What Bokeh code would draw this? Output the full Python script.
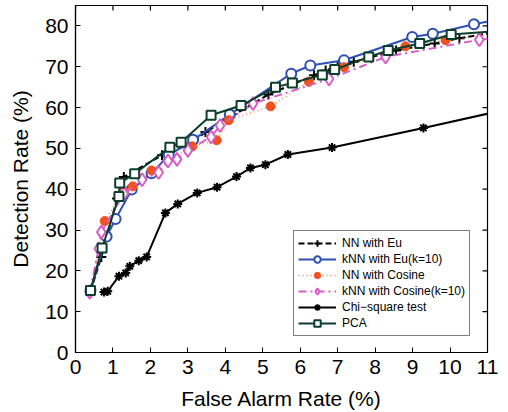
import math
from bokeh.plotting import figure
from bokeh.models import Range1d, FixedTicker
from bokeh.embed import file_html
from bokeh.resources import INLINE

X_MIN, X_MAX = 0, 11
Y_MIN, Y_MAX = 0, 85
x_ticks = list(range(0, 12))
y_ticks = list(range(0, 90, 10))

nn_eu_x = [0.40, 0.69, 1.11, 1.29, 2.31, 3.12, 3.47, 5.15, 6.37, 6.68, 7.00, 7.43, 8.56, 9.59, 10.25, 11.3]
nn_eu_y = [15.0, 23.4, 37.7, 43.0, 48.3, 51.3, 54.0, 63.2, 67.9, 69.1, 70.1, 71.2, 74.0, 75.7, 77.0, 78.6]

knn_eu_x = [0.40, 0.83, 1.07, 1.50, 2.03, 2.49, 3.14, 4.12, 5.76, 6.27, 7.17, 8.99, 9.54, 10.64, 11.3]
knn_eu_y = [15.2, 28.4, 32.7, 39.9, 43.9, 48.3, 52.1, 58.3, 68.3, 70.3, 71.6, 77.3, 78.1, 80.4, 81.6]

nn_cos_x = [0.40, 0.78, 1.29, 1.53, 2.03, 3.12, 3.77, 4.09, 5.21, 6.23, 7.17, 8.81, 9.88, 11.3]
nn_cos_y = [15.0, 32.2, 39.5, 40.7, 44.6, 50.5, 52.0, 56.9, 60.3, 66.3, 69.9, 75.0, 76.5, 78.0]

knn_cos_x = [0.38, 0.62, 0.69, 1.29, 1.78, 2.22, 2.47, 2.71, 3.00, 3.62, 3.86, 4.74, 6.77, 8.28, 10.78, 11.3]
knn_cos_y = [14.8, 25.4, 29.5, 38.9, 42.3, 44.1, 46.9, 47.3, 49.5, 52.8, 55.6, 61.0, 67.0, 72.4, 76.6, 77.0]

chi_x = [0.76, 0.86, 1.16, 1.34, 1.45, 1.69, 1.90, 2.40, 2.73, 3.25, 3.78, 4.30, 4.67, 5.07, 5.67, 6.85, 9.29, 11.4]
chi_y = [14.8, 15.0, 18.7, 19.5, 21.1, 22.5, 23.4, 34.2, 36.4, 39.1, 40.5, 43.1, 45.2, 46.0, 48.5, 50.2, 55.0, 59.3]

pca_x = [0.40, 0.71, 1.16, 1.18, 1.58, 2.52, 2.82, 3.62, 4.42, 5.34, 5.79, 6.59, 6.92, 7.83, 8.35, 9.19, 10.03, 11.3]
pca_y = [15.2, 25.6, 38.2, 41.5, 43.8, 50.3, 51.5, 58.1, 60.5, 65.0, 66.0, 68.0, 69.3, 72.4, 74.0, 75.7, 77.9, 78.8]

FONT = "Liberation Sans"

p = figure(frame_width=412, frame_height=347, output_backend="svg", toolbar_location=None,
           x_range=Range1d(X_MIN, X_MAX), y_range=Range1d(Y_MIN, Y_MAX),
           min_border_left=75, min_border_right=12, min_border_top=5, min_border_bottom=0)
p.grid.visible = False
p.outline_line_color = "black"
p.outline_line_width = 1.2
p.background_fill_color = "white"
p.border_fill_color = "white"

for ax, ticks in ((p.xaxis[0], x_ticks), (p.yaxis[0], y_ticks)):
    ax.ticker = FixedTicker(ticks=ticks)
    ax.major_tick_in = 5
    ax.major_tick_out = 0
    ax.minor_tick_line_color = None
    ax.axis_line_color = "black"
    ax.axis_line_width = 1.2
    ax.major_label_text_font = FONT
    ax.major_label_text_font_size = "21px"
    ax.major_label_text_color = "black"
    ax.axis_label_text_font = FONT
    ax.axis_label_text_font_size = "21px"
    ax.axis_label_text_font_style = "normal"
    ax.axis_label_text_color = "black"
    ax.major_label_standoff = 7

p.xaxis.axis_label = "False Alarm Rate (%)"
p.yaxis.axis_label = "Detection Rate (%)"
p.xaxis.axis_label_standoff = 10
p.yaxis.axis_label_standoff = 10

# inward tick marks on the top and right edges of the box (MATLAB style)
p.scatter(x_ticks, [Y_MAX] * len(x_ticks), marker="dash", angle=math.pi / 2, size=10,
          line_color="black", line_width=1.2)
p.scatter([X_MAX] * len(y_ticks), y_ticks, marker="dash", size=10,
          line_color="black", line_width=1.2)

BLUE = "#2e4fb3"
ORANGE = "#f0521f"
PINK = "#d65fc6"
GREEN = "#0b3f2b"

L1 = "NN with Eu"
p.line(nn_eu_x, nn_eu_y, color="black", line_width=2, line_dash="6 3", legend_label=L1)
p.scatter(nn_eu_x, nn_eu_y, marker="cross", size=10, line_color="black", line_width=2, legend_label=L1)

L2 = "kNN with Eu(k=10)"
p.line(knn_eu_x, knn_eu_y, color=BLUE, line_width=2, legend_label=L2)
p.scatter(knn_eu_x, knn_eu_y, marker="circle", size=10, line_color=BLUE, fill_color="white",
          line_width=2, legend_label=L2)

L3 = "NN with Cosine"
p.line(nn_cos_x, nn_cos_y, color=ORANGE, line_width=1.5, line_dash="1 3", line_alpha=0.7, legend_label=L3)
p.scatter(nn_cos_x, nn_cos_y, marker="circle", size=9, line_color=ORANGE, fill_color=ORANGE, legend_label=L3)

L4 = "kNN with Cosine(k=10)"
p.line(knn_cos_x, knn_cos_y, color=PINK, line_width=2, line_dash="8 4 2 4", legend_label=L4)
p.scatter(knn_cos_x, knn_cos_y, marker="diamond", size=13, line_color=PINK, fill_color="white",
          line_width=2, legend_label=L4)

L5 = "Chi\u2212square test"
p.line(chi_x, chi_y, color="black", line_width=2, legend_label=L5)
p.scatter(chi_x, chi_y, marker="asterisk", size=9, line_color="black", line_width=2, legend_label=L5)

L6 = "PCA"
p.line(pca_x, pca_y, color=GREEN, line_width=2, legend_label=L6)
p.scatter(pca_x, pca_y, marker="square", size=9, line_color=GREEN, fill_color="white",
          line_width=2, legend_label=L6)

lg = p.legend[0]
lg.location = (218, 16)
lg.label_text_font = FONT
lg.label_text_font_size = "12px"
lg.label_text_color = "black"
lg.glyph_width = 38
lg.glyph_height = 16
lg.label_height = 16
lg.label_standoff = 6
lg.spacing = 0
lg.padding = 4
lg.margin = 0
lg.border_line_color = "black"
lg.border_line_width = 1.2
lg.background_fill_alpha = 1.0

open("out.html", "w").write(file_html(p, INLINE))
